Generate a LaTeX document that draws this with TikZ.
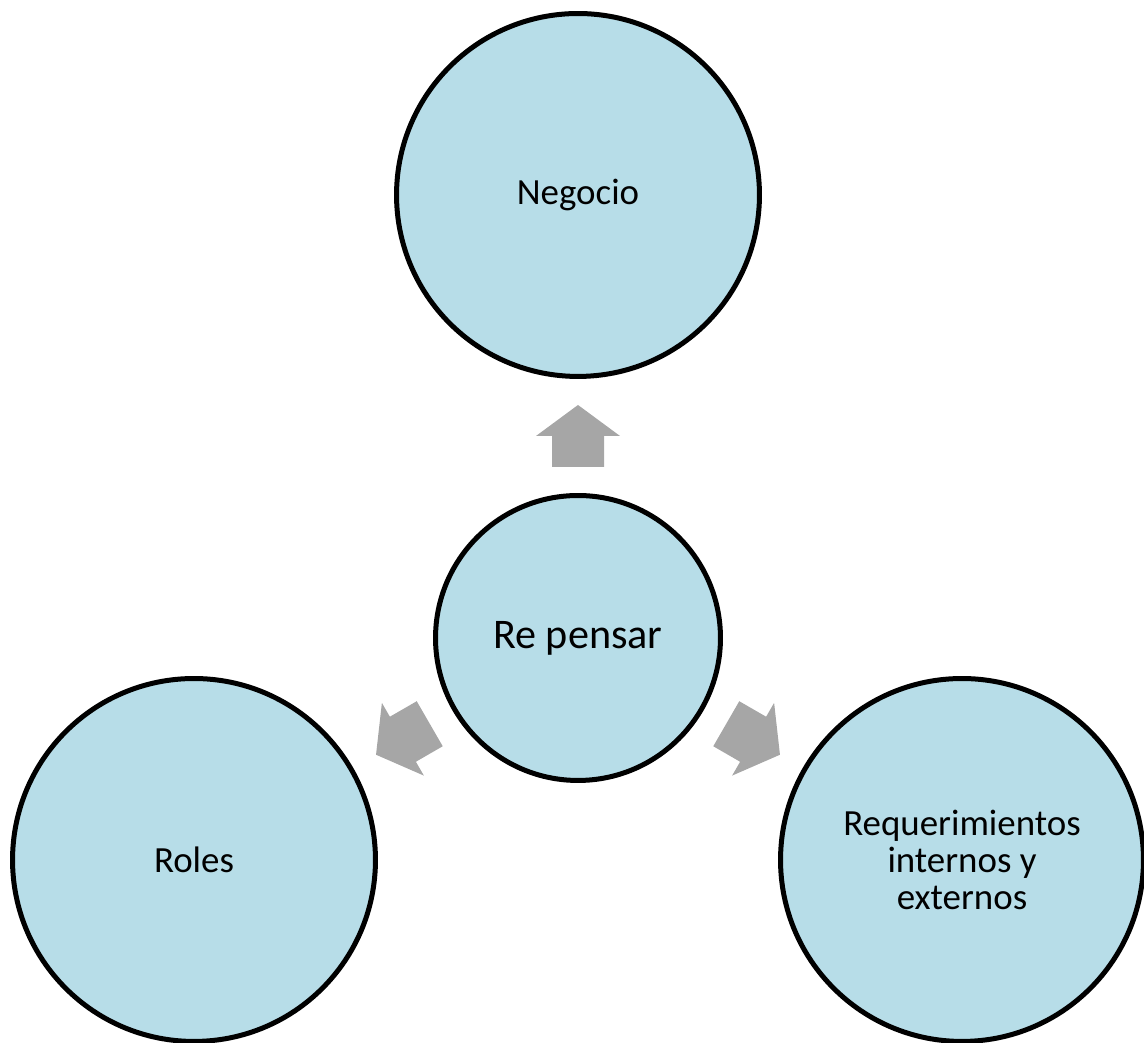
\documentclass[tikz,border=0pt]{standalone}
\usepackage{fontspec}
\setmainfont{Carlito}
\usepackage{tikz}
\usetikzlibrary{positioning, calc}
\definecolor{circfill}{HTML}{B7DDE8}
\definecolor{arrgray}{HTML}{A6A6A6}

\begin{document}
\begin{tikzpicture}[x=0.02cm,y=0.02cm,
  circ/.style={circle,draw=black,line width=0.1cm,fill=circfill,
    minimum size=7.26cm,inner sep=0pt,align=center,
    font=\fontsize{21}{21.3}\selectfont},
  hubcirc/.style={circ,minimum size=5.7cm,font=\fontsize{24}{28}\selectfont},
  blockarr/.style={fill=arrgray}]

\useasboundingbox (0,0) rectangle (1144,1043);

% ==================== Cerchi ====================
\node[hubcirc] (hub) at (578,405) {Re pensar};
\node[circ] (negocio) at (578,848) {Negocio};
\node[circ] (roles) at (194,183) {Roles};
\node[circ] (req) at (962,183) {Requerimientos\\internos y\\externos};

% ==================== Frecce ====================
\foreach \tgt/\ang/\opp in {negocio/90/270, roles/210/30, req/330/150}
  \fill[blockarr, shift={($(hub.\ang)!0.5!(\tgt.\opp)$)}, rotate=\ang]
    (-31,-26) -- (0,-26) -- (0,-42) -- (31,0) -- (0,42) -- (0,26)
    -- (-31,26) -- cycle;

\end{tikzpicture}
\end{document}
